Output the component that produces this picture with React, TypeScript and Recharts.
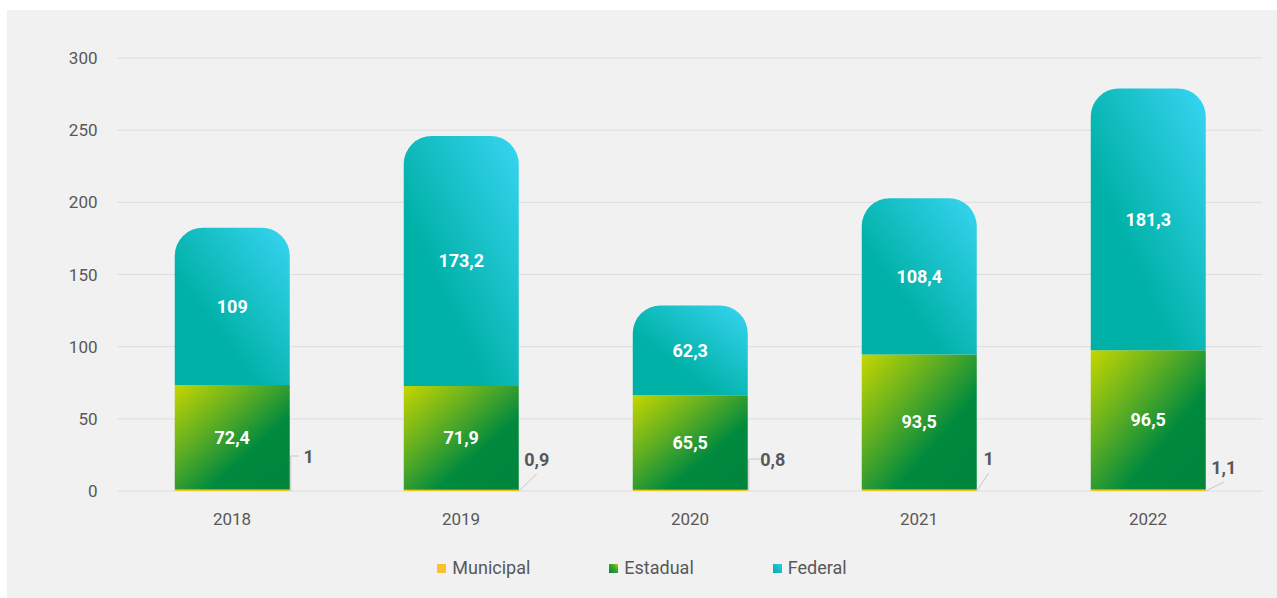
import { Bar, BarChart, CartesianGrid, LabelList, XAxis, YAxis } from 'recharts'

const years = ['2018', '2019', '2020', '2021', '2022']
const municipal = [1, 0.9, 0.8, 1, 1.1]
const estadual = [72.4, 71.9, 65.5, 93.5, 96.5]
const federal = [109, 173.2, 62.3, 108.4, 181.3]
const yTicks = [0, 50, 100, 150, 200, 250, 300]

const data = years.map((year, i) => ({
  year,
  municipal: municipal[i],
  estadual: estadual[i],
  federal: federal[i],
}))

const FONT = 'Roboto, "Noto Sans", sans-serif'
const TEXT = '#585858'

const fmt = (v: number | string) => String(v).replace('.', ',')

// leader lines for the tiny municipal values, relative to the bar's bottom-right corner
const LEADERS: { kind: 'elbow' | 'diag'; dx: number; dy: number }[] = [
  { kind: 'elbow', dx: 19, dy: -35 },
  { kind: 'diag', dx: 18, dy: -32 },
  { kind: 'elbow', dx: 25, dy: -32 },
  { kind: 'diag', dx: 12, dy: -33 },
  { kind: 'diag', dx: 18, dy: -24 },
]

function MunicipalLabel(props: any) {
  const { x, y, width, height, value, index } = props
  const lead = LEADERS[index] ?? LEADERS[0]
  const xr = Number(x) + Number(width)
  const bottom = Number(y) + Number(height)
  const tx = xr + lead.dx
  const ty = bottom + lead.dy
  return (
    <g>
      {lead.kind === 'elbow' ? (
        <polyline
          points={`${xr + 1},${bottom} ${xr + 1},${ty} ${tx - 10},${ty}`}
          fill="none"
          stroke="#c8c8c8"
          strokeWidth={1}
        />
      ) : (
        <line x1={xr} y1={bottom} x2={tx} y2={ty + 15} stroke="#c8c8c8" strokeWidth={1} />
      )}
      <text
        x={tx}
        y={ty}
        textAnchor="middle"
        dominantBaseline="central"
        fill={TEXT}
        fontSize={18}
        fontWeight={700}
        fontFamily={FONT}
      >
        {fmt(value)}
      </text>
    </g>
  )
}

const legendItems = [
  { name: 'Municipal', bg: '#fbc12c' },
  { name: 'Estadual', bg: 'linear-gradient(45deg, #00843d 0%, #3ea52a 60%, #b6d000 100%)' },
  { name: 'Federal', bg: 'linear-gradient(45deg, #00ada5 0%, #2ccbe4 100%)' },
]

export default function App() {
  return (
    <div style={{ position: 'absolute', left: 0, top: 0, width: 1277, height: 598, background: '#fff' }}>
      <div
        style={{
          position: 'absolute',
          left: 7,
          top: 10,
          width: 1270,
          height: 588,
          background: '#f1f1f1',
          fontFamily: FONT,
        }}
      >
        <BarChart
          width={1270}
          height={588}
          data={data}
          margin={{ top: 48, right: 14.5, left: 0, bottom: 67 }}
          barCategoryGap="25%"
        >
          <defs>
            <linearGradient id="gradEstadual" x1="0" y1="0" x2="1" y2="1">
              <stop offset="0%" stopColor="#c6d600" />
              <stop offset="35%" stopColor="#5fae22" />
              <stop offset="65%" stopColor="#008a3e" />
              <stop offset="100%" stopColor="#00843d" />
            </linearGradient>
            <linearGradient id="gradFederal" x1="1" y1="0" x2="0.35" y2="0.65">
              <stop offset="0%" stopColor="#38d5f3" />
              <stop offset="100%" stopColor="#00b1a7" />
            </linearGradient>
          </defs>
          <CartesianGrid vertical={false} stroke="#dddddd" />
          <XAxis
            dataKey="year"
            axisLine={false}
            tickLine={false}
            height={40}
            tickMargin={16}
            tick={{ fontSize: 17, fill: TEXT, fontFamily: FONT }}
          />
          <YAxis
            domain={[0, 300]}
            ticks={yTicks}
            width={110.5}
            axisLine={false}
            tickLine={false}
            tickSize={8}
            tickMargin={12}
            tick={{ fontSize: 17, fill: TEXT, fontFamily: FONT }}
          />
          <Bar dataKey="municipal" stackId="a" fill="#f5c518" isAnimationActive={false}>
            <LabelList dataKey="municipal" content={MunicipalLabel} />
          </Bar>
          <Bar dataKey="estadual" stackId="a" fill="url(#gradEstadual)" isAnimationActive={false}>
            <LabelList
              dataKey="estadual"
              position="center"
              formatter={fmt}
              fill="#fff"
              fontSize={18}
              fontWeight={700}
              fontFamily={FONT}
            />
          </Bar>
          <Bar
            dataKey="federal"
            stackId="a"
            fill="url(#gradFederal)"
            radius={[28, 28, 0, 0]}
            isAnimationActive={false}
          >
            <LabelList
              dataKey="federal"
              position="center"
              formatter={fmt}
              fill="#fff"
              fontSize={18}
              fontWeight={700}
              fontFamily={FONT}
            />
          </Bar>
        </BarChart>
        <div
          style={{
            position: 'absolute',
            left: 0,
            top: 546,
            width: 1270,
            display: 'flex',
            justifyContent: 'center',
            gap: 79,
            fontSize: 18,
            color: TEXT,
            lineHeight: '24px',
          }}
        >
          {legendItems.map((it) => (
            <div key={it.name} style={{ display: 'flex', alignItems: 'center', gap: 6 }}>
              <span style={{ display: 'inline-block', width: 9, height: 9, background: it.bg }} />
              <span>{it.name}</span>
            </div>
          ))}
        </div>
      </div>
    </div>
  )
}
